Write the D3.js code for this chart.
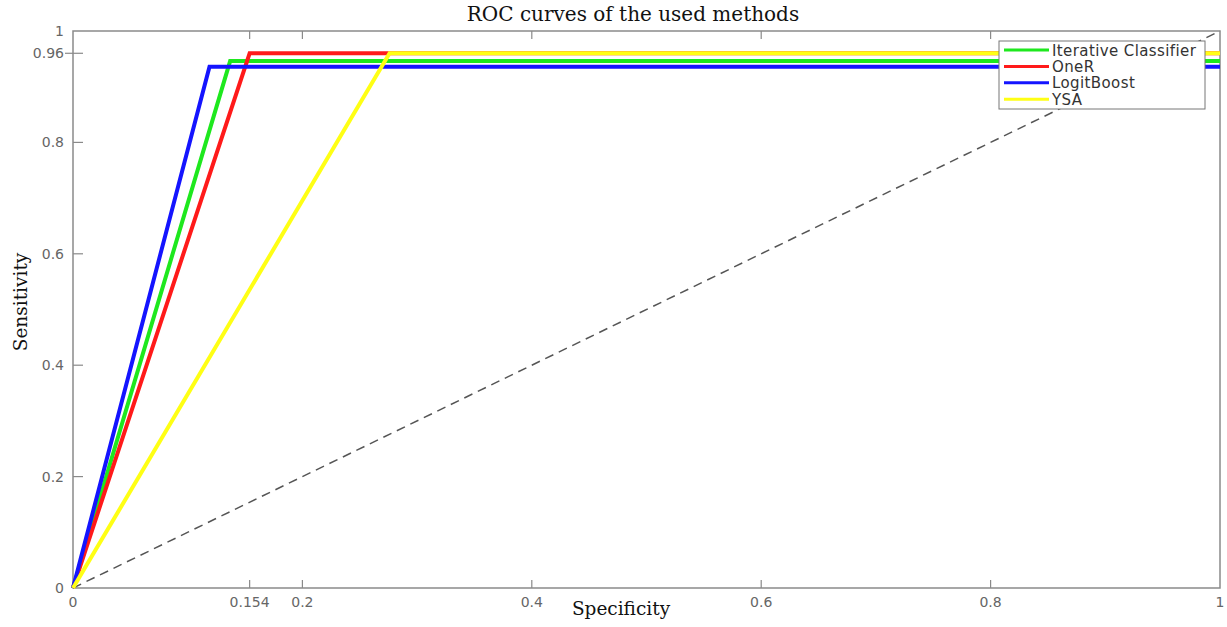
<!DOCTYPE html>
<html>
<head>
<meta charset="utf-8">
<script src="https://cdn.jsdelivr.net/npm/d3@7"></script>
<style>
  body { margin: 0; background: #fff; }
  .tick-label { font-family: "DejaVu Sans", sans-serif; font-size: 14px; fill: #666; }
  .legend-text { font-family: "DejaVu Sans", sans-serif; font-size: 15px; letter-spacing: 0.4px; fill: #333; }
  .serif { font-family: "DejaVu Serif", serif; fill: #111; }
</style>
</head>
<body>
<div id="chart"></div>
<script>
// ROC points: [specificity axis, sensitivity]
const iterativePts = [[0, 0], [0.137, 0.946], [1, 0.946]];
const oneRPts = [[0, 0], [0.154, 0.96], [1, 0.96]];
const logitPts = [[0, 0], [0.119, 0.936], [1, 0.936]];
const ysaPts = [[0, 0], [0.276, 0.96], [1, 0.96]];

const seriesNames = ["Iterative Classifier", "OneR", "LogitBoost", "YSA"];
const seriesColors = ["#1ee81e", "#ff1a1a", "#1414ff", "#ffff14"];

const xTicks = [0, 0.154, 0.2, 0.4, 0.6, 0.8, 1];
const yTicks = [0, 0.2, 0.4, 0.6, 0.8, 0.96, 1];

const width = 1227, height = 627;
const margin = { left: 73, right: 7, top: 31, bottom: 39 };

const svg = d3
  .select("#chart")
  .append("svg")
  .attr("width", width)
  .attr("height", height);

const xScale = d3.scaleLinear().domain([0, 1]).range([margin.left, width - margin.right]);
const yScale = d3.scaleLinear().domain([0, 1]).range([height - margin.bottom, margin.top]);

const axisColor = "#8a8a8a";

// frame
svg
  .append("rect")
  .attr("x", xScale(0))
  .attr("y", yScale(1))
  .attr("width", xScale(1) - xScale(0))
  .attr("height", yScale(0) - yScale(1))
  .attr("fill", "none")
  .attr("stroke", axisColor)
  .attr("stroke-width", 1.5);

// x ticks (inward, bottom and top)
svg
  .selectAll(".xtick-b")
  .data(xTicks.filter((d) => d > 0 && d < 1))
  .enter()
  .append("line")
  .attr("x1", (d) => xScale(d))
  .attr("x2", (d) => xScale(d))
  .attr("y1", yScale(0))
  .attr("y2", yScale(0) - 8)
  .attr("stroke", axisColor)
  .attr("stroke-width", 1.2);

svg
  .selectAll(".xtick-t")
  .data(xTicks.filter((d) => d > 0 && d < 1))
  .enter()
  .append("line")
  .attr("x1", (d) => xScale(d))
  .attr("x2", (d) => xScale(d))
  .attr("y1", yScale(1))
  .attr("y2", yScale(1) + 8)
  .attr("stroke", axisColor)
  .attr("stroke-width", 1.2);

svg
  .selectAll(".xlabel")
  .data(xTicks)
  .enter()
  .append("text")
  .attr("class", "tick-label")
  .attr("x", (d) => xScale(d))
  .attr("y", yScale(0) + 19)
  .attr("text-anchor", "middle")
  .text((d) => d);

// y ticks (inward, 0.96 crosses the axis)
svg
  .selectAll(".ytick")
  .data(yTicks.filter((d) => d > 0 && d < 1))
  .enter()
  .append("line")
  .attr("x1", (d) => xScale(0) + (d === 0.96 ? -8 : 0))
  .attr("x2", (d) => xScale(0) + 10)
  .attr("y1", (d) => yScale(d))
  .attr("y2", (d) => yScale(d))
  .attr("stroke", axisColor)
  .attr("stroke-width", 1.2);

svg
  .selectAll(".ylabel")
  .data(yTicks)
  .enter()
  .append("text")
  .attr("class", "tick-label")
  .attr("x", (d) => (d === 0.96 ? xScale(0) - 9 : xScale(0) - 9))
  .attr("y", (d) => yScale(d) + 5)
  .attr("text-anchor", "end")
  .text((d) => d);

// chance diagonal
svg
  .append("line")
  .attr("x1", xScale(0))
  .attr("y1", yScale(0))
  .attr("x2", xScale(1))
  .attr("y2", yScale(1))
  .attr("stroke", "#555")
  .attr("stroke-width", 1.5)
  .attr("stroke-dasharray", "9,6");

// curves
const line = d3
  .line()
  .x((d) => xScale(d[0]))
  .y((d) => yScale(d[1]));

const allSeries = [iterativePts, oneRPts, logitPts, ysaPts];
svg
  .selectAll(".roc")
  .data(allSeries)
  .enter()
  .append("path")
  .attr("class", "roc")
  .attr("d", line)
  .attr("fill", "none")
  .attr("stroke", (d, i) => seriesColors[i])
  .attr("stroke-width", 4)
  .attr("stroke-linejoin", "miter");

// legend
const legend = svg.append("g").attr("transform", "translate(999,41)");
legend
  .append("rect")
  .attr("width", 206)
  .attr("height", 68)
  .attr("fill", "#fff")
  .attr("stroke", "#777")
  .attr("stroke-width", 1);

const rows = legend
  .selectAll(".leg")
  .data(seriesNames)
  .enter()
  .append("g")
  .attr("transform", (d, i) => `translate(0, ${9 + i * 16.4})`);

rows
  .append("line")
  .attr("x1", 5)
  .attr("x2", 50)
  .attr("stroke", (d, i) => seriesColors[i])
  .attr("stroke-width", 3);

rows
  .append("text")
  .attr("class", "legend-text")
  .attr("x", 53)
  .attr("y", 5.5)
  .text((d) => d);

// titles
svg
  .append("text")
  .attr("class", "serif")
  .attr("x", 633)
  .attr("y", 21)
  .attr("text-anchor", "middle")
  .style("font-size", "20px")
  .text("ROC curves of the used methods");

svg
  .append("text")
  .attr("class", "serif")
  .attr("x", 621)
  .attr("y", 615)
  .attr("text-anchor", "middle")
  .style("font-size", "18.5px")
  .text("Specificity");

svg
  .append("text")
  .attr("class", "serif")
  .attr("transform", "translate(27,302) rotate(-90)")
  .attr("text-anchor", "middle")
  .style("font-size", "18.5px")
  .text("Sensitivity");
</script>
</body>
</html>
